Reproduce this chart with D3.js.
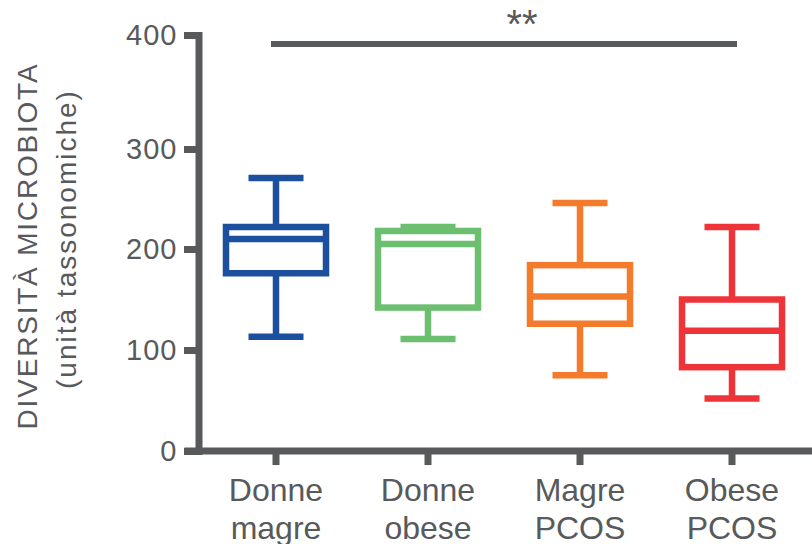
<!DOCTYPE html>
<html><head><meta charset="utf-8">
<script src="https://cdn.jsdelivr.net/npm/d3@7"></script>
<style>
body{margin:0;background:#fff}
svg{display:block}
text{font-family:"Liberation Sans",Arial,Helvetica,sans-serif;fill:#58595b}
</style>
</head><body><svg id="c" width="812" height="544"></svg>
<script>
// ---- data ----
const categories = ["Donne magre","Donne obese","Magre PCOS","Obese PCOS"];
const labelLines = [["Donne","magre"],["Donne","obese"],["Magre","PCOS"],["Obese","PCOS"]];
const whiskerLow  = [113, 111, 75, 52];
const q1          = [176, 142, 126, 83];
const median      = [210, 205, 153, 119];
const q3          = [222, 218, 184, 150];
const whiskerHigh = [271, 222, 246, 222];
const colors = ["#1d4f9f","#6bbf6f","#f37b2b","#ee3439"];
const yTicks = [0, 100, 200, 300, 400];
const sigFrom = 0, sigTo = 3, sigValue = 392, sigLabel = "**";
const yTitle1 = "DIVERSITÀ MICROBIOTA";
const yTitle2 = "(unità tassonomiche)";

// ---- layout ----
const svg = d3.select("#c");
const axisColor = "#58595b";
const x = d3.scaleBand().domain(categories).range([200, 808]);
const y = d3.scaleLinear().domain(yTicks).range([451, 350, 249, 149, 35]);
const cx = c => x(c) + x.bandwidth() / 2;
const boxW = 100, capW = 55, sw = 6.5;

// y axis
const yAxisX = 198.5;
const gy = svg.append("g").attr("transform", `translate(${yAxisX},0)`)
  .call(d3.axisLeft(y).tickValues(yTicks).tickSize(11).tickSizeOuter(0).tickPadding(10));
gy.select(".domain").attr("stroke", axisColor).attr("stroke-width", 7).attr("stroke-linecap", "square");
gy.selectAll(".tick line").attr("stroke", axisColor).attr("stroke-width", 7).attr("stroke-linecap", "square");
gy.selectAll(".tick text").attr("fill", axisColor).style("font-size", "29px").style("letter-spacing", "1px")
  .attr("font-family", null);

// x axis
svg.append("line")
  .attr("x1", yAxisX - 14).attr("x2", 812)
  .attr("y1", y(0)).attr("y2", y(0))
  .attr("stroke", axisColor).attr("stroke-width", 7);
const gx = svg.append("g").attr("transform", `translate(0,${y(0)})`)
  .call(d3.axisBottom(x).tickSize(14).tickSizeOuter(0).tickFormat(""));
gx.select(".domain").remove();
gx.selectAll(".tick line").attr("stroke", axisColor).attr("stroke-width", 7);

const xl = svg.append("g").selectAll("text").data(categories).join("text")
  .attr("text-anchor", "middle")
  .style("font-size", "32px");
xl.each(function(c, i) {
  const t = d3.select(this);
  labelLines[i].forEach((ln, k) => {
    t.append("tspan").attr("x", cx(c)).attr("y", y(0) + 50 + k * 38).text(ln);
  });
});

// y title
const yt = svg.append("g").attr("transform", "translate(0,0)");
yt.append("text").attr("transform", "translate(37,246) rotate(-90)")
  .attr("text-anchor", "middle").style("font-size", "28px").style("letter-spacing", "1.8px").text(yTitle1);
yt.append("text").attr("transform", "translate(76,239) rotate(-90)")
  .attr("text-anchor", "middle").style("font-size", "28px").style("letter-spacing", "2px").text(yTitle2);

// boxes
const g = svg.append("g").selectAll("g").data(categories).join("g");
g.each(function(c, i) {
  const s = d3.select(this), col = colors[i], m = cx(c);
  const line = (x1, x2, y1, y2) => s.append("line").attr("x1", x1).attr("x2", x2).attr("y1", y1).attr("y2", y2)
    .attr("stroke", col).attr("stroke-width", sw);
  line(m, m, y(q3[i]), y(whiskerHigh[i]));
  line(m, m, y(q1[i]), y(whiskerLow[i]));
  line(m - capW / 2, m + capW / 2, y(whiskerHigh[i]), y(whiskerHigh[i]));
  line(m - capW / 2, m + capW / 2, y(whiskerLow[i]), y(whiskerLow[i]));
  s.append("rect").attr("x", m - boxW / 2).attr("width", boxW)
    .attr("y", y(q3[i])).attr("height", y(q1[i]) - y(q3[i]))
    .attr("fill", "none").attr("stroke", col).attr("stroke-width", sw);
  line(m - boxW / 2, m + boxW / 2, y(median[i]), y(median[i]));
});

// significance bracket
const sx1 = cx(categories[sigFrom]) - 5, sx2 = cx(categories[sigTo]) + 5;
svg.append("line").attr("x1", sx1).attr("x2", sx2).attr("y1", y(sigValue)).attr("y2", y(sigValue))
  .attr("stroke", axisColor).attr("stroke-width", 6);
svg.append("text").attr("x", (sx1 + sx2) / 2 + 18).attr("y", y(sigValue) - 6)
  .attr("text-anchor", "middle").style("font-size", "40px").text(sigLabel);
</script>
</body></html>
